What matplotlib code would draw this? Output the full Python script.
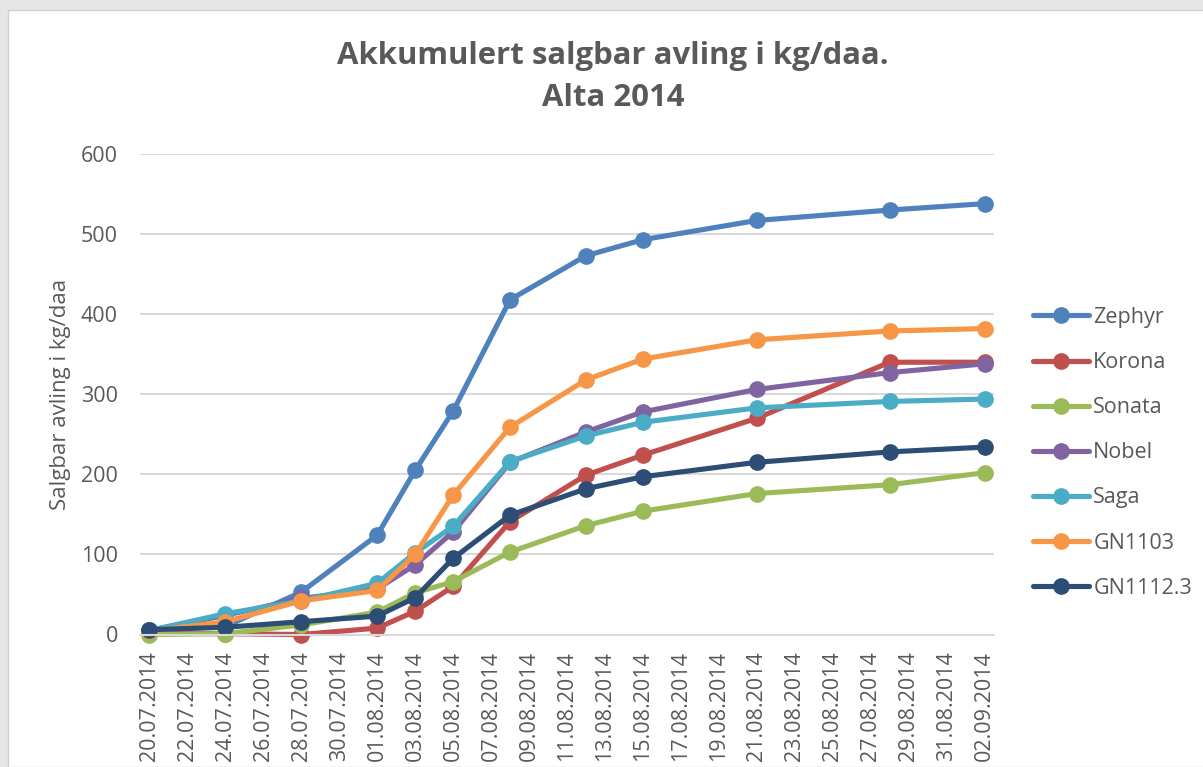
import matplotlib
matplotlib.use("Agg")
import matplotlib.pyplot as plt
import matplotlib.dates as mdates
from matplotlib.patches import Rectangle
from datetime import datetime, timedelta

plt.rcParams['font.family'] = ['Open Sans', 'DejaVu Sans']

dates = ["20.07.2014", "24.07.2014", "28.07.2014", "01.08.2014", "03.08.2014",
         "05.08.2014", "08.08.2014", "12.08.2014", "15.08.2014", "21.08.2014",
         "28.08.2014", "02.09.2014"]

zephyr   = [6, 10, 53, 124, 205, 279, 418, 473, 493, 517, 530, 538]
korona   = [2, 1, 0, 8, 29, 60, 141, 199, 224, 270, 340, 340]
sonata   = [0, 1, 12, 28, 52, 66, 103, 136, 154, 176, 187, 202]
nobel    = [5, 24, 45, 57, 87, 128, 215, 253, 278, 306, 327, 338]
saga     = [5, 26, 42, 64, 102, 135, 216, 248, 265, 283, 291, 294]
gn1103   = [4, 16, 42, 55, 100, 174, 259, 318, 344, 368, 379, 382]
gn1112_3 = [6, 9, 16, 23, 46, 95, 149, 182, 197, 215, 228, 234]

series_names = ["Zephyr", "Korona", "Sonata", "Nobel", "Saga", "GN1103", "GN1112.3"]
series_values = [zephyr, korona, sonata, nobel, saga, gn1103, gn1112_3]
colors = ["#4F81BD", "#C0504D", "#9BBB59", "#8064A2", "#4BACC6", "#F79646", "#2C4D75"]

title = "Akkumulert salgbar avling i kg/daa.\nAlta 2014"
ylabel = "Salgbar avling i kg/daa"
yticks = [0, 100, 200, 300, 400, 500, 600]

x = [datetime.strptime(d, "%d.%m.%Y") for d in dates]

fig = plt.figure(figsize=(12.03, 7.67), dpi=100)
fig.patch.set_facecolor("#E6E6E6")
bg = Rectangle((8 / 1203, 0), 1, (767 - 10) / 767, transform=fig.transFigure,
               facecolor="white", edgecolor="#D0D0D0", linewidth=1.0, zorder=-10)
fig.add_artist(bg)

ax = fig.add_axes([140 / 1203, 1 - 634.5 / 767, (994 - 140) / 1203, (634.5 - 154) / 767])
ax.set_zorder(5)
ax.patch.set_alpha(0)

for name, vals, c in zip(series_names, series_values, colors):
    ax.plot(x, vals, color=c, linewidth=3.7, marker="o", markersize=11,
            label=name, clip_on=False, solid_capstyle="round")

ax.set_ylim(0, 600)
ax.set_yticks(yticks)
start = x[0]
ax.set_xlim(start - timedelta(hours=12), x[-1] + timedelta(hours=12))
xt = [start + timedelta(days=2 * k) for k in range(23)]
ax.set_xticks(xt)
ax.xaxis.set_major_formatter(mdates.DateFormatter("%d.%m.%Y"))

ax.grid(axis="y", color="#D9D9D9", linewidth=1.5)
ax.set_axisbelow(True)
for s in ["top", "right", "left"]:
    ax.spines[s].set_visible(False)
ax.spines["bottom"].set_color("#D9D9D9")
ax.spines["bottom"].set_linewidth(1.5)

fs = 15.5
ax.tick_params(axis="y", length=0, pad=16, labelsize=fs, labelcolor="#595959")
ax.tick_params(axis="x", length=0, pad=12, labelsize=fs, labelcolor="#595959",
               labelrotation=90)

ax.set_ylabel(ylabel, fontsize=16, color="#595959", labelpad=7)

fig.text(613 / 1203, 1 - 77 / 767, title, ha="center", va="center",
         fontsize=22.4, fontweight="bold", color="#595959", linespacing=1.5)

leg = ax.legend(loc="upper left", bbox_to_anchor=(1033 / 1203, 1 - 307 / 767),
                bbox_transform=fig.transFigure, frameon=False, fontsize=fs,
                labelcolor="#595959", handlelength=2.6, handletextpad=0.2,
                labelspacing=1.12, borderpad=0, borderaxespad=0)

fig.savefig("out.png", dpi=100, facecolor=fig.get_facecolor())
